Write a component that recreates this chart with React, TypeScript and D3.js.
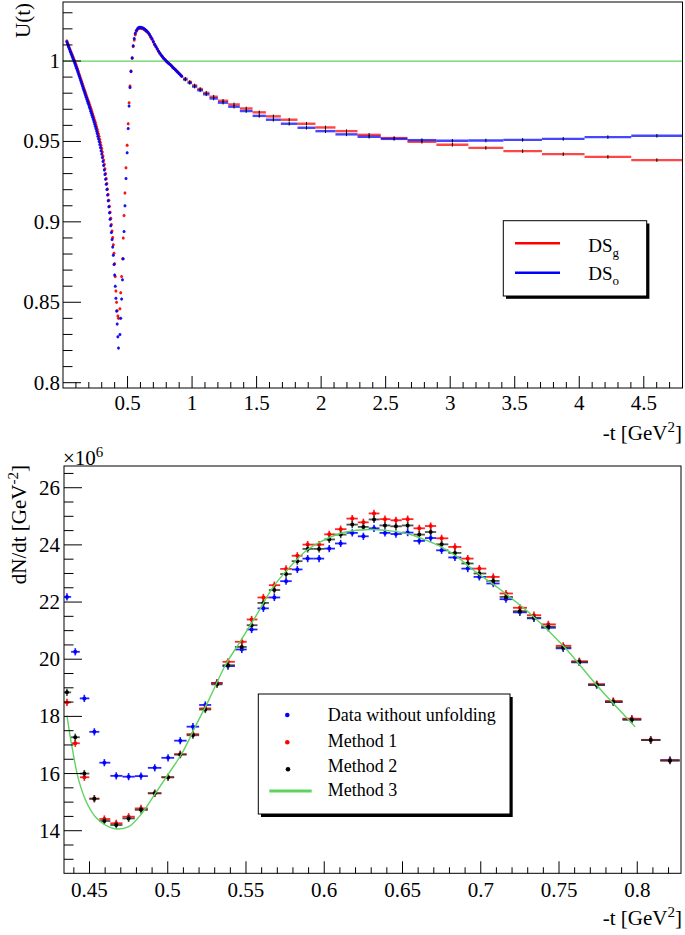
import React from 'react';
import * as d3 from 'd3';

// ---------------- Top panel data: U(t) ----------------
// left (falling) branch, fine bins
const leftT = [0.030,0.035,0.040,0.045,0.050,0.055,0.060,0.065,0.070,0.075,0.080,0.085,0.090,0.095,0.100,0.105,0.110,0.115,0.120,0.125,0.130,0.135,0.140,0.145,0.150,0.155,0.160,0.165,0.170,0.175,0.180,0.185,0.190,0.195,0.200,0.205,0.210,0.215,0.220,0.225,0.230,0.235,0.240,0.245,0.250,0.255,0.260,0.265,0.270,0.275,0.280,0.285,0.290,0.295,0.300,0.305,0.31,0.315,0.32,0.325,0.33,0.335,0.34,0.345,0.35,0.355,0.36,0.365,0.37,0.375,0.38,0.385,0.39,0.395,0.40,0.405,0.41,0.415,0.42,0.425,0.43];
const leftRed = [1.0125,1.0113,1.0102,1.0091,1.0080,1.0070,1.0060,1.0050,1.0040,1.0030,1.0020,1.0010,1.0000,0.9989,0.9978,0.9966,0.9955,0.9943,0.9932,0.9920,0.9908,0.9896,0.9884,0.9872,0.9860,0.9848,0.9836,0.9824,0.9812,0.9800,0.9789,0.9777,0.9766,0.9755,0.9743,0.9731,0.9719,0.9707,0.9695,0.9683,0.9670,0.9658,0.9645,0.9632,0.9619,0.9605,0.9591,0.9576,0.9561,0.9546,0.9530,0.9512,0.9494,0.9475,0.9456,0.9434,0.9410,0.9385,0.9358,0.9330,0.9300,0.9270,0.9238,0.9205,0.9170,0.9134,0.9097,0.9060,0.9022,0.8983,0.8943,0.8902,0.8858,0.8805,0.8740,0.8660,0.8570,0.8500,0.8448,0.8415,0.8400];
const leftBlue = [1.0120,1.0108,1.0097,1.0085,1.0074,1.0063,1.0053,1.0042,1.0032,1.0021,1.0011,1.0000,0.9990,0.9978,0.9967,0.9955,0.9944,0.9932,0.9920,0.9908,0.9896,0.9883,0.9871,0.9859,0.9847,0.9834,0.9822,0.9810,0.9798,0.9786,0.9774,0.9762,0.9750,0.9738,0.9726,0.9713,0.9701,0.9688,0.9676,0.9663,0.9650,0.9636,0.9623,0.9609,0.9595,0.9580,0.9565,0.9549,0.9533,0.9516,0.9499,0.9481,0.9462,0.9442,0.9422,0.9400,0.9376,0.9350,0.9323,0.9295,0.9265,0.9234,0.9201,0.9167,0.9131,0.9094,0.9056,0.9017,0.8976,0.8934,0.8890,0.8843,0.8792,0.8735,0.8670,0.8600,0.8525,0.8445,0.8365,0.8285,0.8215];
// rising branch + peak, fine bins
const riseT = [0.441,0.447,0.454,0.461,0.467,0.473,0.480,0.488,0.497,0.505,0.512,0.519,0.527,0.536,0.544,0.552,0.560,0.569,0.578,0.587,0.596,0.605,0.614,0.623,0.632,0.641,0.650,0.660,0.670,0.680,0.690,0.700,0.710,0.720,0.730,0.740,0.750,0.760,0.770,0.780,0.790,0.800,0.810,0.820,0.830,0.840,0.850,0.860,0.870,0.880,0.890,0.900,0.910,0.920];
const riseRed = [0.846,0.856,0.866,0.877,0.890,0.904,0.918,0.9336,0.9477,0.961,0.974,0.9844,0.9938,1.0017,1.0090,1.0130,1.0163,1.0185,1.0197,1.0203,1.0205,1.0204,1.0202,1.0199,1.0195,1.0189,1.0182,1.0174,1.0162,1.0148,1.0135,1.0118,1.0102,1.0088,1.0074,1.0061,1.0049,1.0037,1.0027,1.0017,1.0008,1.0000,0.9993,0.9986,0.9979,0.9971,0.9963,0.9955,0.9947,0.9939,0.9931,0.9923,0.9915,0.9907];
const riseBlue = [0.830,0.840,0.852,0.864,0.877,0.894,0.910,0.927,0.943,0.958,0.972,0.9835,0.9935,1.0020,1.0095,1.0140,1.0172,1.0192,1.0203,1.0208,1.0210,1.0209,1.0207,1.0204,1.0199,1.0193,1.0187,1.0178,1.0166,1.0152,1.0138,1.0121,1.0105,1.0090,1.0076,1.0062,1.0050,1.0038,1.0028,1.0018,1.0009,1.0000,0.9993,0.9985,0.9978,0.9970,0.9962,0.9954,0.9946,0.9938,0.9930,0.9921,0.9913,0.9905];
// coarse bins
const coarseEdges = [0.93,0.965,1.0,1.04,1.085,1.135,1.2,1.28,1.37,1.469,1.572,1.688,1.817,1.956,2.111,2.282,2.462,2.669,2.893,3.141,3.412,3.711,4.041,4.403,4.8];
const coarseRed = [0.9890,0.9870,0.9848,0.9826,0.9802,0.9778,0.9753,0.9730,0.9705,0.9681,0.9656,0.9635,0.9610,0.9587,0.9564,0.9541,0.9521,0.9498,0.9479,0.9460,0.9440,0.9421,0.9404,0.9384];
const coarseBlue = [0.9885,0.9864,0.9841,0.9818,0.9793,0.9767,0.9741,0.9716,0.9689,0.9659,0.9635,0.9610,0.9585,0.9564,0.9544,0.9529,0.9516,0.9508,0.9504,0.9506,0.9510,0.9516,0.9527,0.9535];

const topXTicks = [0.5,1,1.5,2,2.5,3,3.5,4,4.5];
const topXLabels = ['0.5','1','1.5','2','2.5','3','3.5','4','4.5'];
const topYTicks = [0.8,0.85,0.9,0.95,1];
const topYLabels = ['0.8','0.85','0.9','0.95','1'];

// ---------------- Bottom panel data: dN/dt (x10^6) ----------------
const binT = [0.4356,0.4409,0.4467,0.4531,0.4595,0.4671,0.4750,0.4829,0.4917,0.5002,0.5080,0.5161,0.5240,0.5315,0.5385,0.5473,0.5536,0.5611,0.5681,0.5756,0.5828,0.5894,0.5967,0.6032,0.6105,0.6179,0.6250,0.6318,0.6388,0.6458,0.6533,0.6607,0.6680,0.6750,0.6835,0.6917,0.6991,0.7080,0.7161,0.7250,0.7340,0.7432,0.7527,0.7630,0.7741,0.7847,0.7965,0.8086,0.8209];
const dataNoUnfold = [22.18,20.26,18.63,17.46,16.38,15.92,15.89,15.91,16.20,16.55,17.15,17.64,18.40,19.17,19.76,20.34,21.04,21.78,22.16,22.73,23.14,23.52,23.52,23.87,24.05,24.42,24.30,24.58,24.42,24.38,24.43,24.14,24.24,23.81,23.56,23.17,22.88,22.65,22.10,21.64,21.43,21.10,20.38,19.89,19.10,18.50,17.90,17.17,16.47];
const method1 = [18.49,17.06,15.87,15.12,14.41,14.26,14.49,14.78,15.31,15.87,16.68,17.38,18.28,19.17,19.91,20.61,21.39,22.16,22.59,23.16,23.62,24.01,24.01,24.37,24.55,24.92,24.79,25.10,24.90,24.86,24.90,24.58,24.66,24.23,23.93,23.52,23.17,22.88,22.30,21.80,21.54,21.22,20.47,19.93,19.13,18.54,17.92,17.18,16.46];
const method2 = [18.84,17.27,16.00,15.12,14.34,14.20,14.43,14.73,15.31,15.87,16.66,17.34,18.24,19.12,19.79,20.43,21.19,21.97,22.42,22.98,23.43,23.86,23.86,24.19,24.36,24.71,24.63,24.89,24.68,24.65,24.68,24.36,24.45,24.02,23.72,23.35,23.00,22.74,22.18,21.68,21.45,21.14,20.41,19.90,19.10,18.50,17.88,17.17,16.45];
const method3T = [0.4356,0.4388,0.4431,0.4484,0.4537,0.4601,0.4676,0.4750,0.4835,0.4921,0.5006,0.5091,0.5176,0.5262,0.5368,0.5462,0.5568,0.5674,0.5781,0.5888,0.5994,0.6101,0.6207,0.6313,0.6420,0.6527,0.6633,0.6740,0.6846,0.6952,0.7102,0.7315,0.7527,0.7741,0.7847,0.7986];
const method3V = [18.03,16.94,15.77,14.96,14.49,14.20,14.06,14.14,14.61,15.31,16.00,16.71,17.64,18.57,19.79,20.61,21.55,22.53,23.23,23.81,24.16,24.40,24.51,24.54,24.49,24.40,24.20,23.95,23.60,23.12,22.53,21.60,20.47,19.09,18.45,17.64];

const botXTicks = [0.45,0.5,0.55,0.6,0.65,0.7,0.75,0.8];
const botXLabels = ['0.45','0.5','0.55','0.6','0.65','0.7','0.75','0.8'];
const botYTicks = [14,16,18,20,22,24,26];
const botYLabels = ['14','16','18','20','22','24','26'];

const FONT = "'Liberation Serif', 'Times New Roman', serif";
const RED = '#ff0000';
const BLUE = '#0000ff';
const GREEN = '#5fd35f';

export default function App() {
  const W = 685, H = 935;
  const T = { l: 63, r: 682.5, t: 2, b: 388 };
  const B = { l: 64, r: 681, t: 466, b: 873.3 };
  const xT = d3.scaleLinear().domain([0, 4.8]).range([T.l, T.r]);
  const yT = d3.scaleLinear().domain([0.7967, 1.0367]).range([T.b, T.t]);
  const xB = d3.scaleLinear().domain([0.43371, 0.82795]).range([B.l, B.r]);
  const yB = d3.scaleLinear().domain([12.51, 26.76]).range([B.b, B.t]);

  const topXMinor = d3.range(1, 48).map(i => i / 10).filter(v => !topXTicks.some(m => Math.abs(m - v) < 1e-6));
  const topYMinor = d3.range(80, 104).map(i => i / 100).filter(v => !topYTicks.some(m => Math.abs(m - v) < 1e-6));
  const botXMinor = d3.range(44, 83).map(i => i / 100).filter(v => v <= 0.8279 && !botXTicks.some(m => Math.abs(m - v) < 1e-6));
  const botYMinor = d3.range(26, 54).map(i => i / 2).filter(v => v > 12.51 && v < 26.76 && !botYTicks.includes(v));

  const fine = (ts: number[], vs: number[], color: string, key: string) =>
    ts.map((t, i) => (
      <g key={key + i}>
        <line x1={xT(t)} x2={xT(t)} y1={yT(vs[i]) - 1.6} y2={yT(vs[i]) + 1.6} stroke="#000" strokeWidth={0.8} opacity={0.5} />
        <circle cx={xT(t)} cy={yT(vs[i])} r={1.5} fill={color} opacity={0.9} />
      </g>
    ));

  const coarse = (vs: number[], color: string, key: string) =>
    vs.map((v, i) => {
      const lo = coarseEdges[i], hi = coarseEdges[i + 1];
      const xc = xT((lo + hi) / 2);
      return (
        <g key={key + i}>
          <line x1={xT(lo)} x2={xT(hi)} y1={yT(v)} y2={yT(v)} stroke={color} strokeWidth={2.4} opacity={0.72} />
          <line x1={xc} x2={xc} y1={yT(v) - 1.8} y2={yT(v) + 1.8} stroke="#000" strokeWidth={1} />
        </g>
      );
    });

  const binLo = (j: number) => j > 0 ? (binT[j - 1] + binT[j]) / 2 : binT[0] - (binT[1] - binT[0]) / 2;
  const binHi = (j: number) => j < binT.length - 1 ? (binT[j] + binT[j + 1]) / 2 : binT[j] + (binT[j] - binT[j - 1]) / 2;

  const bottomSeries = (vs: number[], color: string, barColor: string, key: string) =>
    vs.map((v, j) => {
      const cx = xB(binT[j]), cy = yB(v);
      return (
        <g key={key + j}>
          <line x1={xB(binLo(j))} x2={xB(binHi(j))} y1={cy} y2={cy} stroke={barColor} strokeWidth={1.8} opacity={0.85} />
          <line x1={cx} x2={cx} y1={cy - 3.6} y2={cy + 3.6} stroke={barColor} strokeWidth={1.6} opacity={0.9} />
          <circle cx={cx} cy={cy} r={2} fill={color} />
        </g>
      );
    });

  const m3Line = d3.line<number>()
    .x((_, i) => xB(method3T[i]))
    .y(d => yB(d))
    .curve(d3.curveCatmullRom.alpha(0.5));

  const txt = { fontFamily: FONT, fill: '#000' } as const;

  return (
    <svg width={W} height={H} viewBox={`0 0 ${W} ${H}`} style={{ position: 'absolute', left: 0, top: 0, background: '#fff' }}>
      <defs>
        <clipPath id="clipTop"><rect x={T.l} y={T.t} width={T.r - T.l} height={T.b - T.t} /></clipPath>
        <clipPath id="clipBot"><rect x={B.l} y={B.t} width={B.r - B.l} height={B.b - B.t} /></clipPath>
      </defs>
      <rect x={0} y={0} width={W} height={H} fill="#fff" />

      {/* ================= TOP PANEL ================= */}
      <g clipPath="url(#clipTop)">
        <line x1={T.l} x2={T.r} y1={yT(1)} y2={yT(1)} stroke={GREEN} strokeWidth={1.2} />
        {coarse(coarseRed, RED, 'cr')}
        {coarse(coarseBlue, BLUE, 'cb')}
        {fine(leftT, leftRed, RED, 'lr')}
        {fine(leftT, leftBlue, BLUE, 'lb')}
        {fine(riseT, riseRed, RED, 'rr')}
        {fine(riseT, riseBlue, BLUE, 'rb')}
      </g>
      <rect x={T.l} y={T.t} width={T.r - T.l} height={T.b - T.t} fill="none" stroke="#000" strokeWidth={1} />
      {topXTicks.map(v => <line key={'tx' + v} x1={xT(v)} x2={xT(v)} y1={T.b} y2={T.b - 12} stroke="#000" strokeWidth={1} />)}
      {topXMinor.map(v => <line key={'txm' + v} x1={xT(v)} x2={xT(v)} y1={T.b} y2={T.b - 6} stroke="#000" strokeWidth={1} />)}
      {topYTicks.map(v => <line key={'ty' + v} x1={T.l} x2={T.l + 18} y1={yT(v)} y2={yT(v)} stroke="#000" strokeWidth={1} />)}
      {topYMinor.map(v => <line key={'tym' + v} x1={T.l} x2={T.l + 9.5} y1={yT(v)} y2={yT(v)} stroke="#000" strokeWidth={1} />)}
      {topXTicks.map((v, i) => <text key={'txl' + v} x={xT(v)} y={410} fontSize={21} textAnchor="middle" style={txt}>{topXLabels[i]}</text>)}
      {topYTicks.map((v, i) => <text key={'tyl' + v} x={60} y={yT(v) + 7} fontSize={21} textAnchor="end" style={txt}>{topYLabels[i]}</text>)}
      <text x={682} y={440} fontSize={21} textAnchor="end" style={txt}>-t [GeV<tspan dy={-8} fontSize={15}>2</tspan><tspan dy={8}>]</tspan></text>
      <text transform="translate(30,3) rotate(-90)" fontSize={21} textAnchor="end" style={txt}>U(t)</text>

      {/* top legend */}
      <rect x={506} y={223.5} width={143.4} height={75.3} fill="#000" />
      <rect x={503.3} y={220.7} width={143.4} height={75.3} fill="#fff" stroke="#000" strokeWidth={1} />
      <line x1={515} x2={560} y1={243.3} y2={243.3} stroke={RED} strokeWidth={2.5} />
      <line x1={515} x2={560} y1={272.7} y2={272.7} stroke={BLUE} strokeWidth={2.5} />
      <text x={588.3} y={251.5} fontSize={19} style={txt}>DS<tspan dy={5} fontSize={13}>g</tspan></text>
      <text x={588.3} y={280} fontSize={19} style={txt}>DS<tspan dy={5} fontSize={13}>o</tspan></text>

      {/* ================= BOTTOM PANEL ================= */}
      <g clipPath="url(#clipBot)">
        {bottomSeries(dataNoUnfold, BLUE, BLUE, 'bb')}
        {bottomSeries(method1, RED, RED, 'br')}
        {bottomSeries(method2, '#000', '#2e3a2e', 'bk')}
        <path d={m3Line(method3V) || ''} fill="none" stroke={GREEN} strokeWidth={1.4} />
      </g>
      <rect x={B.l} y={B.t} width={B.r - B.l} height={B.b - B.t} fill="none" stroke="#000" strokeWidth={1} />
      {botXTicks.map(v => <line key={'bx' + v} x1={xB(v)} x2={xB(v)} y1={B.b} y2={B.b - 12} stroke="#000" strokeWidth={1} />)}
      {botXMinor.map(v => <line key={'bxm' + v} x1={xB(v)} x2={xB(v)} y1={B.b} y2={B.b - 6} stroke="#000" strokeWidth={1} />)}
      {botYTicks.map(v => <line key={'by' + v} x1={B.l} x2={B.l + 18} y1={yB(v)} y2={yB(v)} stroke="#000" strokeWidth={1} />)}
      {botYMinor.map(v => <line key={'bym' + v} x1={B.l} x2={B.l + 9.5} y1={yB(v)} y2={yB(v)} stroke="#000" strokeWidth={1} />)}
      {botXTicks.map((v, i) => <text key={'bxl' + v} x={xB(v)} y={897} fontSize={21} textAnchor="middle" style={txt}>{botXLabels[i]}</text>)}
      {botYTicks.map((v, i) => <text key={'byl' + v} x={60} y={yB(v) + 7} fontSize={21} textAnchor="end" style={txt}>{botYLabels[i]}</text>)}
      <text x={682} y={925} fontSize={21} textAnchor="end" style={txt}>-t [GeV<tspan dy={-8} fontSize={15}>2</tspan><tspan dy={8}>]</tspan></text>
      <text transform="translate(26,465) rotate(-90)" fontSize={21} textAnchor="end" style={txt}>dN/dt [GeV<tspan dy={-8} fontSize={15}>-2</tspan><tspan dy={8}>]</tspan></text>
      <text x={63} y={465} fontSize={21} style={txt}>×10<tspan dy={-8} fontSize={15}>6</tspan></text>

      {/* bottom legend */}
      <rect x={261} y={697} width={251.7} height={120} fill="#000" />
      <rect x={258.3} y={694} width={251.7} height={120} fill="#fff" stroke="#000" strokeWidth={1} />
      <circle cx={287.3} cy={715} r={2.3} fill={BLUE} />
      <circle cx={287.3} cy={742.3} r={2.3} fill={RED} />
      <circle cx={288} cy={769.3} r={2.3} fill="#000" />
      <line x1={269.3} x2={311.7} y1={791} y2={791} stroke={GREEN} strokeWidth={3} />
      <text x={327.7} y={721} fontSize={18} style={txt}>Data without unfolding</text>
      <text x={327.7} y={746.5} fontSize={18} style={txt}>Method 1</text>
      <text x={327.7} y={771.5} fontSize={18} style={txt}>Method 2</text>
      <text x={327.7} y={795.5} fontSize={18} style={txt}>Method 3</text>
    </svg>
  );
}
